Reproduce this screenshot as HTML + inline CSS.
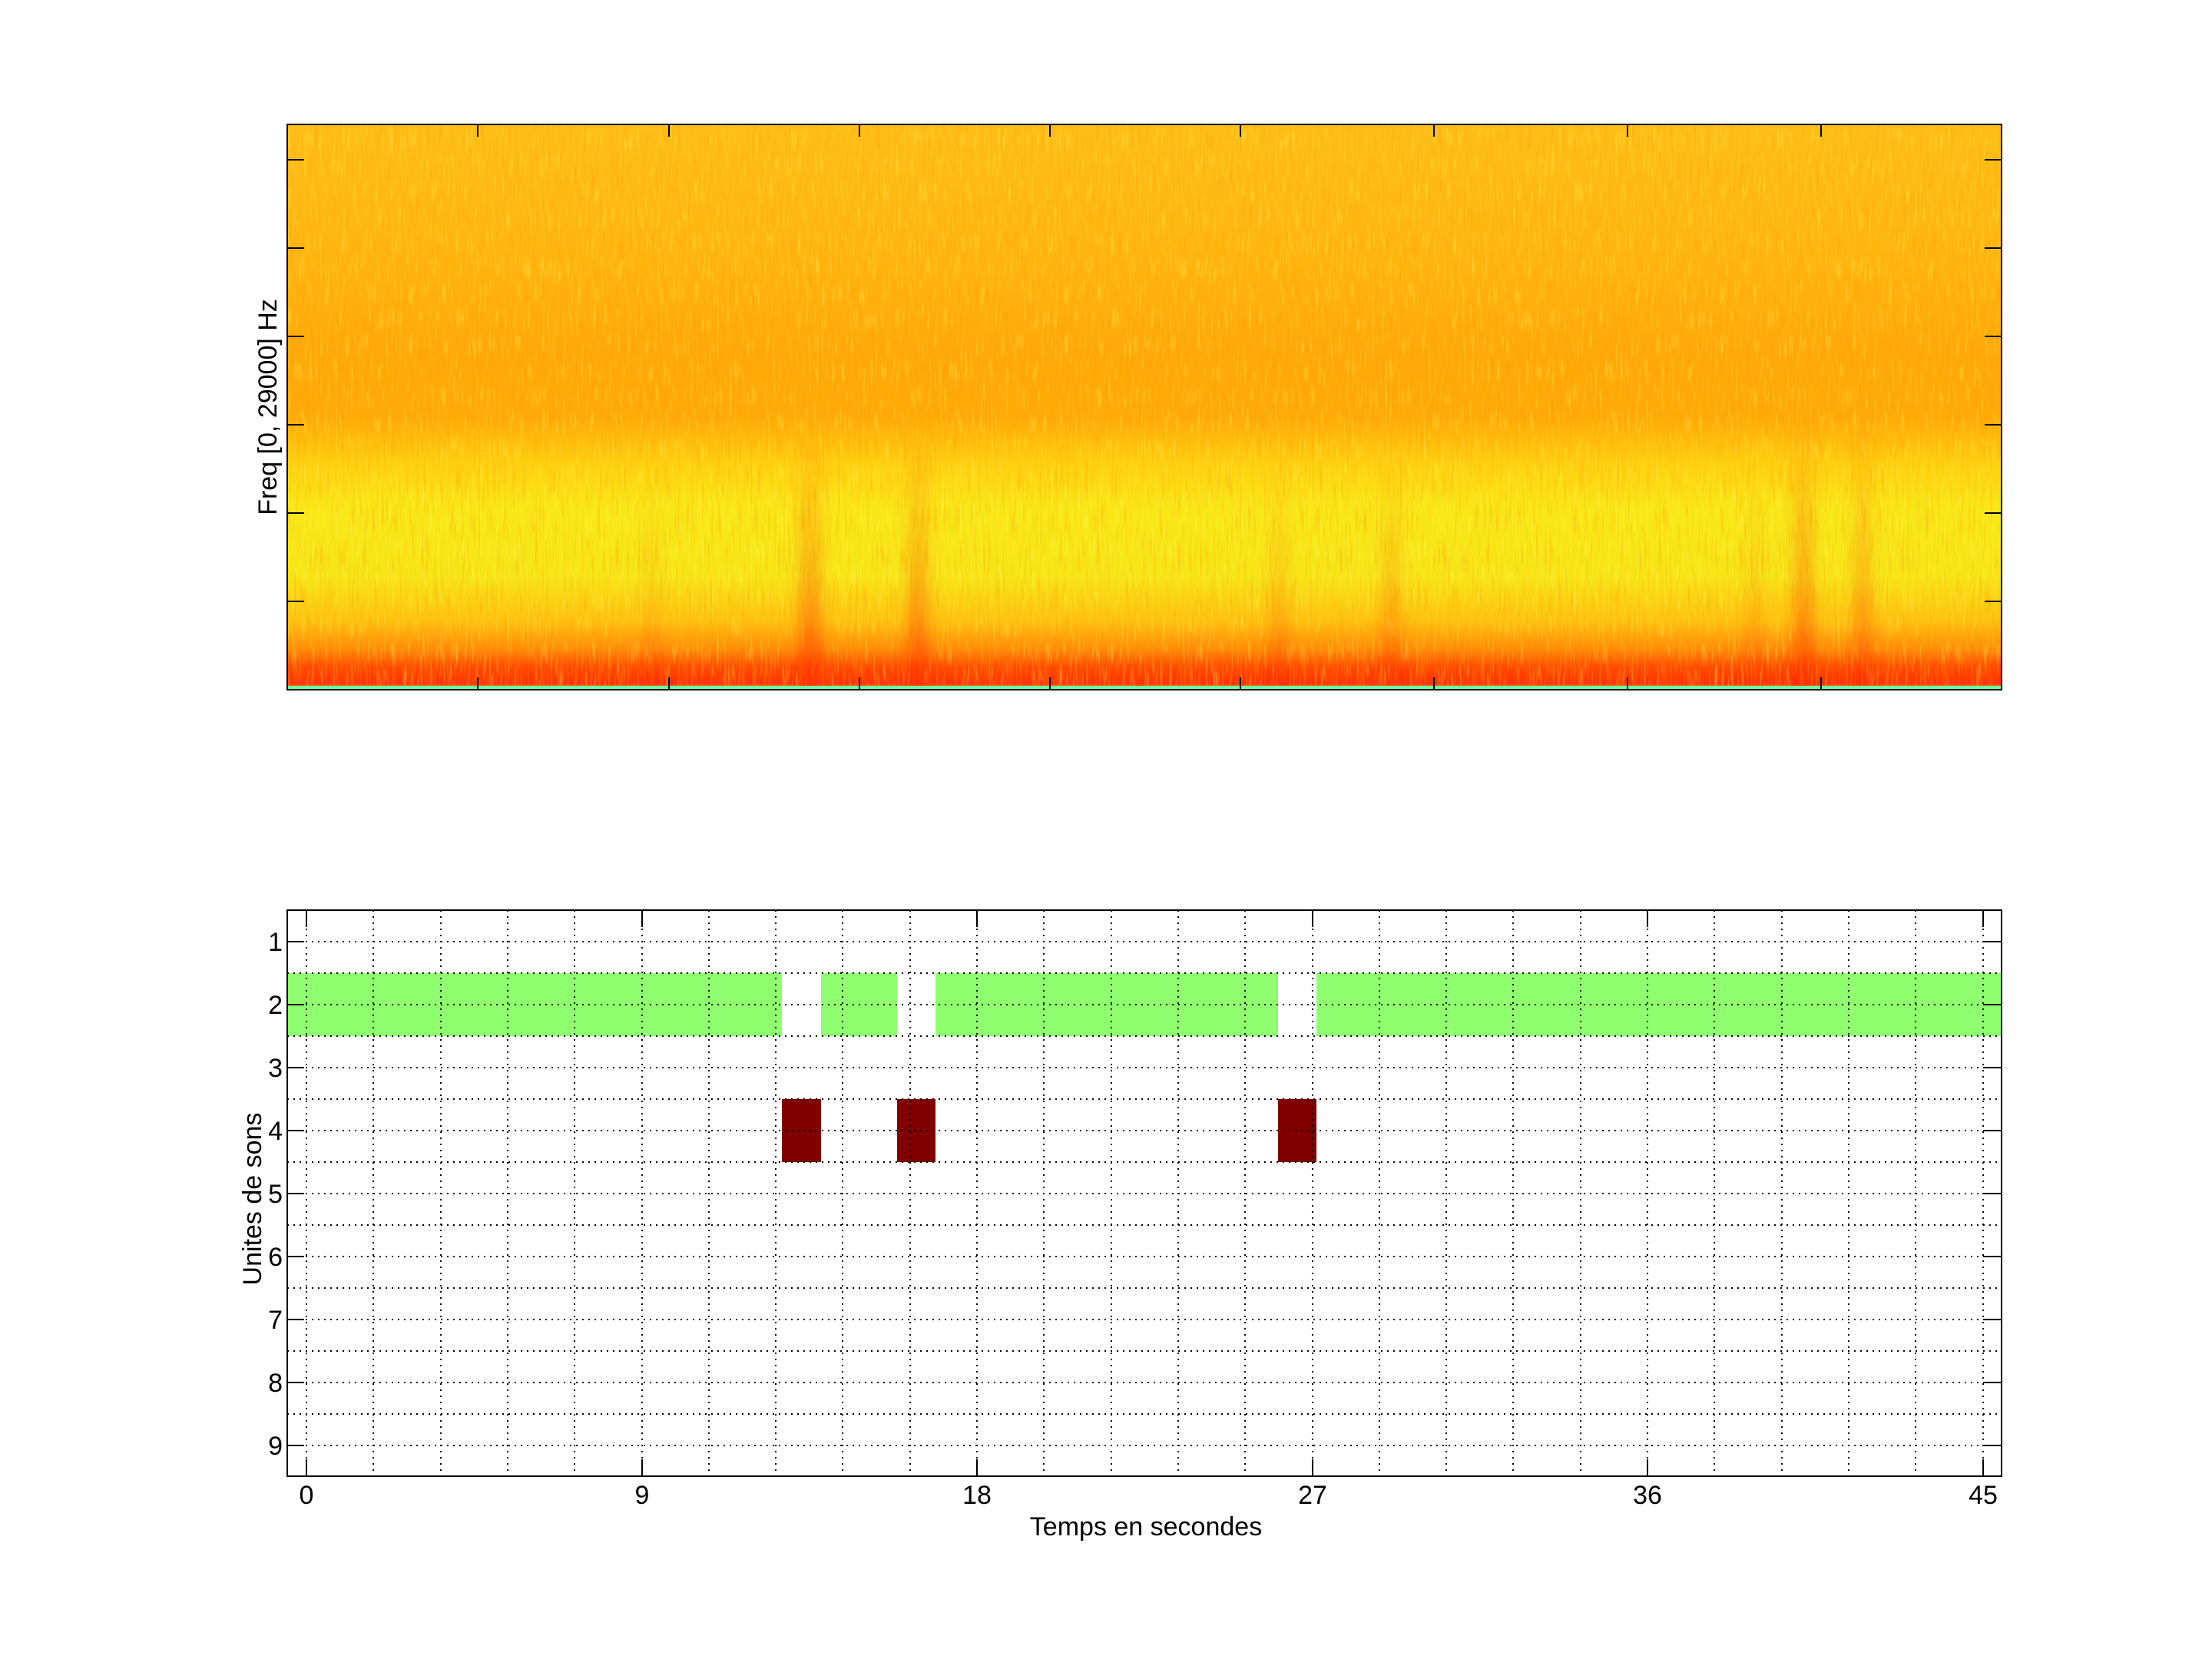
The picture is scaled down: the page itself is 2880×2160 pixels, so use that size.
<!DOCTYPE html>
<html><head><meta charset="utf-8"><style>
html,body{margin:0;padding:0;background:#fff;}
svg{display:block;}
text{font-family:"Liberation Sans",sans-serif;fill:#000;}
</style></head><body>
<svg width="2880" height="2160" viewBox="0 0 2880 2160" xmlns="http://www.w3.org/2000/svg">
<defs>
<linearGradient id="sg" x1="0" y1="0" x2="0" y2="1">
<stop offset="0" stop-color="#ffbe18"/>
<stop offset="0.25" stop-color="#ffb410"/>
<stop offset="0.4" stop-color="#ffa80a"/>
<stop offset="0.52" stop-color="#ffaa08"/>
<stop offset="0.6" stop-color="#ffd010"/>
<stop offset="0.68" stop-color="#f8e818"/>
<stop offset="0.8" stop-color="#f6e618"/>
<stop offset="0.88" stop-color="#ffc010"/>
<stop offset="0.93" stop-color="#ff8808"/>
<stop offset="0.96" stop-color="#ff4a00"/>
<stop offset="0.99" stop-color="#ff3000"/>
<stop offset="1" stop-color="#80ff80"/>
</linearGradient>
<linearGradient id="st" x1="0" y1="0" x2="0" y2="1">
<stop offset="0" stop-color="#ff3000" stop-opacity="0"/>
<stop offset="0.45" stop-color="#ff4000" stop-opacity="0.25"/>
<stop offset="1" stop-color="#ff2000" stop-opacity="0.45"/>
</linearGradient>
<filter id="bl" x="-50%" y="0" width="200%" height="100%"><feGaussianBlur stdDeviation="8 4"/></filter>
<filter id="nz" x="0" y="0" width="100%" height="100%">
<feTurbulence type="fractalNoise" baseFrequency="0.35 0.02" numOctaves="2" seed="4"/>
<feColorMatrix type="matrix" values="0 0 0 0 1  0 0 0 0 0.35  0 0 0 0 0  2.2 0 0 0 -1.1"/>
</filter>
<filter id="nz2" x="0" y="0" width="100%" height="100%">
<feTurbulence type="fractalNoise" baseFrequency="0.3 0.03" numOctaves="2" seed="11"/>
<feColorMatrix type="matrix" values="0 0 0 0 1  0 0 0 0 1  0 0 0 0 0.1  2.2 0 0 0 -1.15"/>
</filter>
<clipPath id="cp"><rect x="374" y="162" width="2232" height="736"/></clipPath>
</defs>

<g clip-path="url(#cp)">
<rect x="374" y="162" width="2232" height="736" fill="url(#sg)"/>
<rect x="374" y="162" width="2232" height="736" filter="url(#nz)" opacity="0.55"/>
<rect x="374" y="162" width="2232" height="736" filter="url(#nz2)" opacity="0.45"/>
<g filter="url(#bl)">
<rect x="1040" y="560" width="30" height="338" fill="url(#st)"/>
<rect x="1182" y="560" width="26" height="338" fill="url(#st)"/>
<rect x="1655" y="600" width="20" height="298" fill="url(#st)" opacity="0.6"/>
<rect x="1800" y="600" width="22" height="298" fill="url(#st)" opacity="0.7"/>
<rect x="843" y="620" width="12" height="278" fill="url(#st)" opacity="0.5"/>
<rect x="2335" y="540" width="26" height="358" fill="url(#st)"/>
<rect x="2414" y="540" width="22" height="358" fill="url(#st)" opacity="0.8"/>
<rect x="2275" y="620" width="18" height="278" fill="url(#st)" opacity="0.5"/>
</g>
<rect x="374" y="893" width="2232" height="5" fill="#70ffa0"/>
</g>
<rect x="374" y="162" width="2232" height="736" fill="none" stroke="#000" stroke-width="2"/>
<g stroke="#000" stroke-width="2">
<line x1="374" y1="208" x2="396" y2="208"/><line x1="2606" y1="208" x2="2584" y2="208"/>
<line x1="374" y1="323" x2="396" y2="323"/><line x1="2606" y1="323" x2="2584" y2="323"/>
<line x1="374" y1="438" x2="396" y2="438"/><line x1="2606" y1="438" x2="2584" y2="438"/>
<line x1="374" y1="553" x2="396" y2="553"/><line x1="2606" y1="553" x2="2584" y2="553"/>
<line x1="374" y1="668" x2="396" y2="668"/><line x1="2606" y1="668" x2="2584" y2="668"/>
<line x1="374" y1="783" x2="396" y2="783"/><line x1="2606" y1="783" x2="2584" y2="783"/>
<line x1="622" y1="162" x2="622" y2="178"/><line x1="622" y1="898" x2="622" y2="882"/>
<line x1="871" y1="162" x2="871" y2="178"/><line x1="871" y1="898" x2="871" y2="882"/>
<line x1="1119" y1="162" x2="1119" y2="178"/><line x1="1119" y1="898" x2="1119" y2="882"/>
<line x1="1367" y1="162" x2="1367" y2="178"/><line x1="1367" y1="898" x2="1367" y2="882"/>
<line x1="1615" y1="162" x2="1615" y2="178"/><line x1="1615" y1="898" x2="1615" y2="882"/>
<line x1="1867" y1="162" x2="1867" y2="178"/><line x1="1867" y1="898" x2="1867" y2="882"/>
<line x1="2119" y1="162" x2="2119" y2="178"/><line x1="2119" y1="898" x2="2119" y2="882"/>
<line x1="2371" y1="162" x2="2371" y2="178"/><line x1="2371" y1="898" x2="2371" y2="882"/>
</g>
<text transform="translate(360,530) rotate(-90)" font-size="34" text-anchor="middle">Freq [0, 29000] Hz</text>

<rect x="374" y="1185" width="2232" height="737" fill="#fff"/>
<rect x="374" y="1267" width="644" height="82" fill="#8fff6f"/>
<rect x="1069" y="1267" width="99" height="82" fill="#8fff6f"/>
<rect x="1218" y="1267" width="446" height="82" fill="#8fff6f"/>
<rect x="1714" y="1267" width="892" height="82" fill="#8fff6f"/>
<rect x="1018" y="1431" width="51" height="82" fill="#800000"/>
<rect x="1168" y="1431" width="50" height="82" fill="#800000"/>
<rect x="1664" y="1431" width="50" height="82" fill="#800000"/>

<g stroke="#000" stroke-width="2" stroke-dasharray="2,6">
<line x1="374" y1="1226" x2="2606" y2="1226"/><line x1="374" y1="1267" x2="2606" y2="1267"/>
<line x1="374" y1="1308" x2="2606" y2="1308"/><line x1="374" y1="1349" x2="2606" y2="1349"/>
<line x1="374" y1="1390" x2="2606" y2="1390"/><line x1="374" y1="1431" x2="2606" y2="1431"/>
<line x1="374" y1="1472" x2="2606" y2="1472"/><line x1="374" y1="1513" x2="2606" y2="1513"/>
<line x1="374" y1="1554" x2="2606" y2="1554"/><line x1="374" y1="1595" x2="2606" y2="1595"/>
<line x1="374" y1="1636" x2="2606" y2="1636"/><line x1="374" y1="1677" x2="2606" y2="1677"/>
<line x1="374" y1="1718" x2="2606" y2="1718"/><line x1="374" y1="1759" x2="2606" y2="1759"/>
<line x1="374" y1="1800" x2="2606" y2="1800"/><line x1="374" y1="1841" x2="2606" y2="1841"/>
<line x1="374" y1="1882" x2="2606" y2="1882"/>
</g>
<g stroke="#000" stroke-width="2" stroke-dasharray="2,6">
<line x1="399" y1="1185" x2="399" y2="1922"/><line x1="486" y1="1185" x2="486" y2="1922"/>
<line x1="574" y1="1185" x2="574" y2="1922"/><line x1="661" y1="1185" x2="661" y2="1922"/>
<line x1="748" y1="1185" x2="748" y2="1922"/><line x1="836" y1="1185" x2="836" y2="1922"/>
<line x1="923" y1="1185" x2="923" y2="1922"/><line x1="1010" y1="1185" x2="1010" y2="1922"/>
<line x1="1097" y1="1185" x2="1097" y2="1922"/><line x1="1185" y1="1185" x2="1185" y2="1922"/>
<line x1="1272" y1="1185" x2="1272" y2="1922"/><line x1="1359" y1="1185" x2="1359" y2="1922"/>
<line x1="1447" y1="1185" x2="1447" y2="1922"/><line x1="1534" y1="1185" x2="1534" y2="1922"/>
<line x1="1621" y1="1185" x2="1621" y2="1922"/><line x1="1709" y1="1185" x2="1709" y2="1922"/>
<line x1="1796" y1="1185" x2="1796" y2="1922"/><line x1="1883" y1="1185" x2="1883" y2="1922"/>
<line x1="1970" y1="1185" x2="1970" y2="1922"/><line x1="2058" y1="1185" x2="2058" y2="1922"/>
<line x1="2145" y1="1185" x2="2145" y2="1922"/><line x1="2232" y1="1185" x2="2232" y2="1922"/>
<line x1="2320" y1="1185" x2="2320" y2="1922"/><line x1="2407" y1="1185" x2="2407" y2="1922"/>
<line x1="2494" y1="1185" x2="2494" y2="1922"/><line x1="2582" y1="1185" x2="2582" y2="1922"/>
</g>
<rect x="374" y="1185" width="2232" height="737" fill="none" stroke="#000" stroke-width="2"/>
<g stroke="#000" stroke-width="2">
<line x1="374" y1="1226" x2="396" y2="1226"/><line x1="2606" y1="1226" x2="2584" y2="1226"/>
<line x1="374" y1="1308" x2="396" y2="1308"/><line x1="2606" y1="1308" x2="2584" y2="1308"/>
<line x1="374" y1="1390" x2="396" y2="1390"/><line x1="2606" y1="1390" x2="2584" y2="1390"/>
<line x1="374" y1="1472" x2="396" y2="1472"/><line x1="2606" y1="1472" x2="2584" y2="1472"/>
<line x1="374" y1="1554" x2="396" y2="1554"/><line x1="2606" y1="1554" x2="2584" y2="1554"/>
<line x1="374" y1="1636" x2="396" y2="1636"/><line x1="2606" y1="1636" x2="2584" y2="1636"/>
<line x1="374" y1="1718" x2="396" y2="1718"/><line x1="2606" y1="1718" x2="2584" y2="1718"/>
<line x1="374" y1="1800" x2="396" y2="1800"/><line x1="2606" y1="1800" x2="2584" y2="1800"/>
<line x1="374" y1="1882" x2="396" y2="1882"/><line x1="2606" y1="1882" x2="2584" y2="1882"/>
<line x1="399" y1="1185" x2="399" y2="1207"/><line x1="399" y1="1922" x2="399" y2="1900"/>
<line x1="836" y1="1185" x2="836" y2="1207"/><line x1="836" y1="1922" x2="836" y2="1900"/>
<line x1="1272" y1="1185" x2="1272" y2="1207"/><line x1="1272" y1="1922" x2="1272" y2="1900"/>
<line x1="1709" y1="1185" x2="1709" y2="1207"/><line x1="1709" y1="1922" x2="1709" y2="1900"/>
<line x1="2145" y1="1185" x2="2145" y2="1207"/><line x1="2145" y1="1922" x2="2145" y2="1900"/>
<line x1="2582" y1="1185" x2="2582" y2="1207"/><line x1="2582" y1="1922" x2="2582" y2="1900"/>
</g>
<g font-size="34" text-anchor="end">
<text x="368" y="1238">1</text><text x="368" y="1320">2</text><text x="368" y="1402">3</text>
<text x="368" y="1484">4</text><text x="368" y="1566">5</text><text x="368" y="1648">6</text>
<text x="368" y="1730">7</text><text x="368" y="1812">8</text><text x="368" y="1894">9</text>
</g>
<g font-size="34" text-anchor="middle">
<text x="399" y="1958">0</text><text x="836" y="1958">9</text><text x="1272" y="1958">18</text>
<text x="1709" y="1958">27</text><text x="2145" y="1958">36</text><text x="2582" y="1958">45</text>
<text x="1492" y="1999">Temps en secondes</text>
</g>
<text transform="translate(340,1561) rotate(-90)" font-size="34" text-anchor="middle">Unites de sons</text>
</svg>
</body></html>
